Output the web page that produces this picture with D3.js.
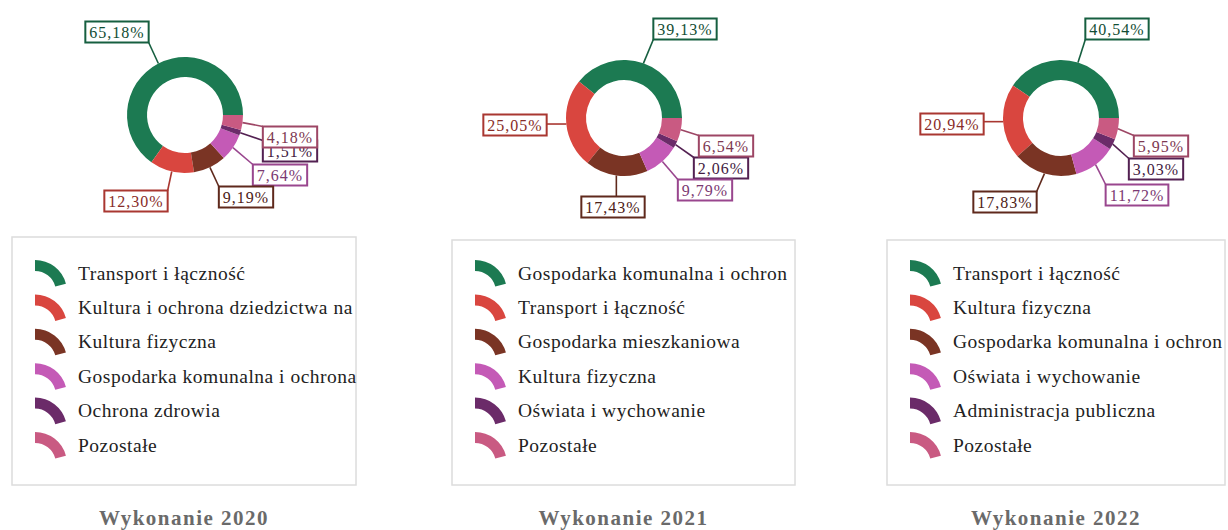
<!DOCTYPE html>
<html lang="pl">
<head>
<meta charset="utf-8">
<script src="https://cdn.jsdelivr.net/npm/d3@7"></script>
<style>
  html, body { margin: 0; padding: 0; background: #ffffff; }
  svg { display: block; }
  text { font-family: "Liberation Serif", "Times New Roman", "DejaVu Serif", serif; }
</style>
</head>
<body>
<svg id="chart" width="1228" height="530"></svg>
<script>
// Struktura wydatków majątkowych wg działów (udział w %)
const years = ["2020", "2021", "2022"];

const sectors2020 = [
  "Transport i łączność",
  "Kultura i ochrona dziedzictwa narodowego",
  "Kultura fizyczna",
  "Gospodarka komunalna i ochrona środowiska",
  "Ochrona zdrowia",
  "Pozostałe"
];
const shares2020 = [65.18, 12.30, 9.19, 7.64, 1.51, 4.18];

const sectors2021 = [
  "Gospodarka komunalna i ochrona środowiska",
  "Transport i łączność",
  "Gospodarka mieszkaniowa",
  "Kultura fizyczna",
  "Oświata i wychowanie",
  "Pozostałe"
];
const shares2021 = [39.13, 25.05, 17.43, 9.79, 2.06, 6.54];

const sectors2022 = [
  "Transport i łączność",
  "Kultura fizyczna",
  "Gospodarka komunalna i ochrona środowiska",
  "Oświata i wychowanie",
  "Administracja publiczna",
  "Pozostałe"
];
const shares2022 = [40.54, 20.94, 17.83, 11.72, 3.03, 5.95];

const titlePrefix = "Wykonanie ";

// Kolory kolejnych wycinków (wspólne dla wszystkich lat)
const sliceColors = ["#1c7a52", "#d9463f", "#7a3424", "#c45ab6", "#6b2b69", "#c95a82"];

// Układ paneli: środek pierścienia, ramka legendy, przesunięcia etykiet względem środka
const panelLayout = [
  { cx: 185, cy: 115, legend: { x: 12, y: 237, w: 344, h: 248 },
    labelOffsets: [[-68, -83], [-49, 86], [61, 82], [95, 60], [105, 36], [105, 22]] },
  { cx: 624, cy: 118, legend: { x: 452, y: 240, w: 343, h: 245 },
    labelOffsets: [[61, -89], [-109, 7], [-11, 89], [81, 72], [97, 50], [102, 28]] },
  { cx: 1061, cy: 118, legend: { x: 887, y: 240, w: 338, h: 245 },
    labelOffsets: [[56, -89], [-109, 6], [-56, 84], [76, 77], [95, 51], [100, 28]] }
];
const legendFirstRowY = 273;
const legendRowStep = 34.4;

const panels = [
  { year: years[0], sectors: sectors2020, shares: shares2020 },
  { year: years[1], sectors: sectors2021, shares: shares2021 },
  { year: years[2], sectors: sectors2022, shares: shares2022 }
];

const svg = d3.select("#chart");
const outerR = 58, innerR = 38;
const fmt = v => d3.format(".2f")(v).replace(".", ",") + "%";

// Wycinki rysowane przeciwnie do ruchu wskazówek zegara, od godziny 3
const pie = d3.pie().sort(null).value(d => d)
  .startAngle(Math.PI / 2).endAngle(Math.PI / 2 - 2 * Math.PI);
const arc = d3.arc().innerRadius(innerR).outerRadius(outerR);
const swatchArc = d3.arc().innerRadius(21).outerRadius(32)
  .startAngle(0).endAngle(75 * Math.PI / 180);

// Skraca nazwę, aby zmieściła się w ramce legendy
function fitText(node, maxW) {
  let s = node.textContent;
  while (s.length > 1 && node.getComputedTextLength() > maxW) {
    s = s.slice(0, -1);
    node.textContent = s;
  }
}

panels.forEach((p, pi) => {
  const L = panelLayout[pi];
  const g = svg.append("g").attr("class", "panel");
  const arcs = pie(p.shares);

  // Pierścień
  const donut = g.append("g").attr("transform", `translate(${L.cx},${L.cy})`);
  donut.selectAll("path.slice").data(arcs).join("path")
    .attr("class", "slice")
    .attr("d", arc)
    .attr("fill", (d, i) => sliceColors[i]);

  // Etykiety z liniami odniesienia (od najmniejszej, większe na wierzchu)
  const labelLayer = donut.append("g");
  const order = d3.range(arcs.length).sort((a, b) => p.shares[a] - p.shares[b]);
  order.forEach(i => {
    const d = arcs[i];
    const mid = (d.startAngle + d.endAngle) / 2;
    const ax = outerR * Math.sin(mid), ay = -outerR * Math.cos(mid);
    const [ox, oy] = L.labelOffsets[i];
    const base = d3.color(sliceColors[i]);
    const stroke = base.darker(0.7).formatHex();
    const ink = base.darker(1.3).formatHex();

    const lg = labelLayer.append("g");
    const line = lg.append("line").attr("stroke", stroke).attr("stroke-width", 1.6);
    const box = lg.append("rect").attr("fill", "#fff").attr("stroke", stroke).attr("stroke-width", 2);
    const t = lg.append("text")
      .attr("x", ox).attr("y", oy)
      .attr("text-anchor", "middle").attr("dominant-baseline", "central")
      .attr("font-size", 16).attr("letter-spacing", 1)
      .attr("fill", ink)
      .text(fmt(p.shares[i]));
    const tw = t.node().getComputedTextLength();
    const bw = tw + 8, bh = 21;
    const x0 = ox - bw / 2, y0 = oy - bh / 2;
    box.attr("x", x0).attr("y", y0).attr("width", bw).attr("height", bh);
    const ex = Math.max(x0, Math.min(x0 + bw, ax));
    const ey = Math.max(y0, Math.min(y0 + bh, ay));
    line.attr("x1", ax).attr("y1", ay).attr("x2", ex).attr("y2", ey);
  });

  // Legenda
  const lb = L.legend;
  g.append("rect")
    .attr("x", lb.x).attr("y", lb.y).attr("width", lb.w).attr("height", lb.h)
    .attr("fill", "#fff").attr("stroke", "#dcdcdc").attr("stroke-width", 1.5);

  const rowY = d3.scalePoint().domain(d3.range(p.sectors.length))
    .range([legendFirstRowY, legendFirstRowY + legendRowStep * (p.sectors.length - 1)]);
  const legend = g.append("g");
  const rows = legend.selectAll("g.row").data(p.sectors).join("g")
    .attr("class", "row")
    .attr("transform", (d, i) => `translate(${lb.x},${rowY(i)})`);
  rows.append("path")
    .attr("d", swatchArc)
    .attr("transform", "translate(23,19)")
    .attr("fill", (d, i) => sliceColors[i]);
  rows.append("text")
    .attr("x", 66).attr("y", 0)
    .attr("dominant-baseline", "central")
    .attr("font-size", 19.5).attr("letter-spacing", 0.5)
    .attr("fill", "#222")
    .text(d => d)
    .each(function () { fitText(this, lb.w - 65); });

  // Podpis panelu
  g.append("text")
    .attr("x", lb.x + lb.w / 2).attr("y", 525)
    .attr("text-anchor", "middle")
    .attr("font-size", 21).attr("font-weight", "bold").attr("letter-spacing", 1.5)
    .attr("fill", "#6a6a6a")
    .text(titlePrefix + p.year);
});
</script>
</body>
</html>
